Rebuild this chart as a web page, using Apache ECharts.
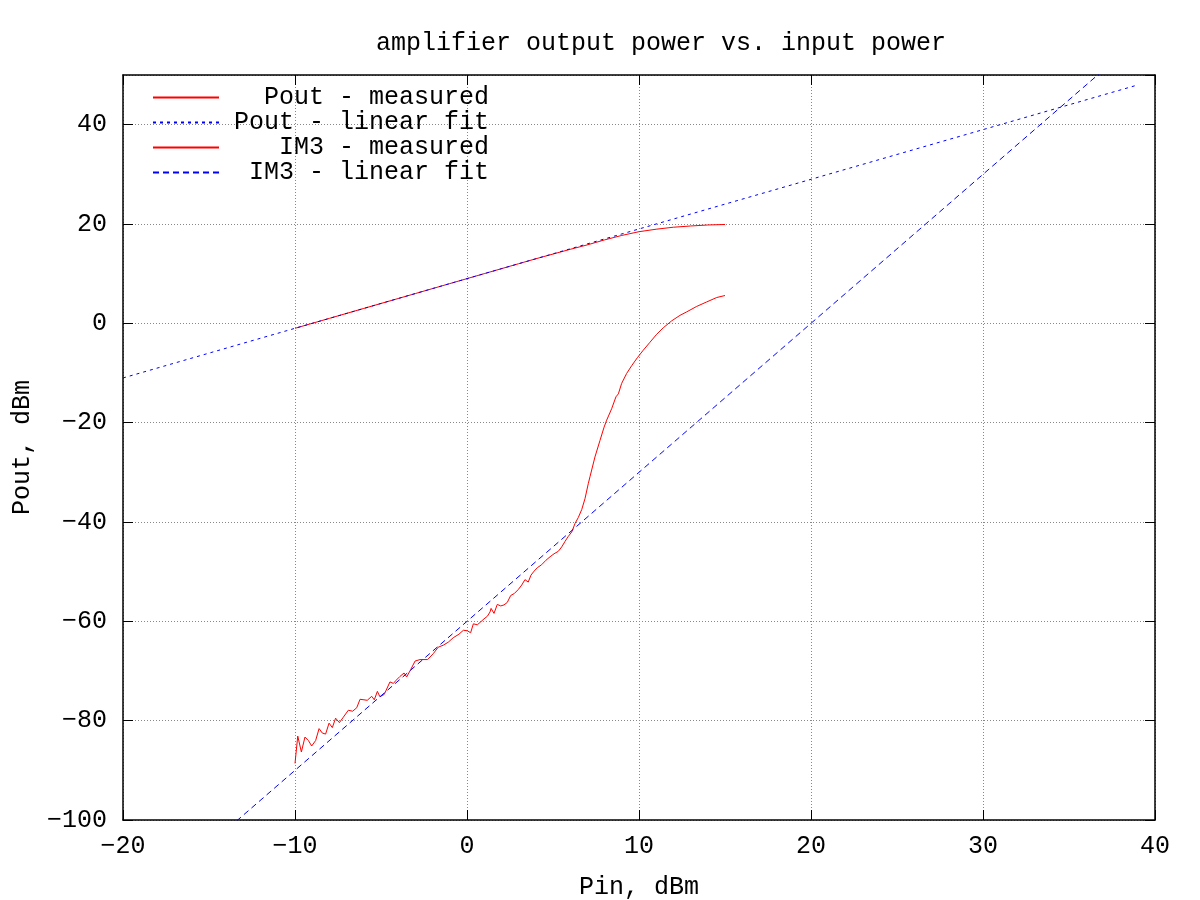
<!DOCTYPE html>
<html>
<head>
<meta charset="utf-8">
<script src="https://cdn.jsdelivr.net/npm/echarts@6/dist/echarts.min.js"></script>
<style>html,body{margin:0;padding:0;background:#fff;}#c{width:1200px;height:900px;}</style>
</head>
<body>
<div id="c"></div>
<script>
const FONT = 'Liberation Mono';
const xTicks = [-20, -10, 0, 10, 20, 30, 40];
const yTicks = [-100, -80, -60, -40, -20, 0, 20, 40];
const seriesNames = ['Pout - measured', 'Pout - linear fit', 'IM3 - measured', 'IM3 - linear fit'];

const poutPin = [-10, -9, -8, -7, -6, -5, -4, -3, -2, -1, 0, 1, 2, 3, 4, 5, 6, 7, 8, 9, 10, 11, 12, 13, 14, 15];
const poutDbm = [-1.0, 0.0, 1.0, 2.0, 3.0, 4.0, 5.0, 6.0, 7.0, 8.0, 9.0, 10.0, 11.0, 12.0, 13.0, 13.95, 14.9, 15.8, 16.8, 17.7, 18.45, 18.95, 19.35, 19.6, 19.8, 19.9];

const poutFitPin = [-20, 39];
const poutFitDbm = [-11, 48];

const im3Pin = [-10.0, -9.84, -9.63, -9.42, -9.22, -9.03, -8.80, -8.60, -8.41, -8.22, -8.02, -7.83, -7.64, -7.42, -7.19, -6.90, -6.65, -6.41, -6.22, -5.99, -5.80, -5.54, -5.39, -5.21, -5.06, -4.81, -4.48, -4.28, -4.13, -3.90, -3.66, -3.51, -3.27, -3.02, -2.73, -2.29, -1.96, -1.67, -1.38, -1.09, -0.80, -0.47, -0.21, 0.02, 0.21, 0.37, 0.60, 0.80, 0.99, 1.18, 1.34, 1.40, 1.57, 1.76, 1.96, 2.15, 2.34, 2.54, 2.75, 2.98, 3.18, 3.37, 3.56, 3.72, 3.90, 4.09, 4.34, 4.59, 4.83, 5.06, 5.31, 5.51, 5.70, 5.89, 6.09, 6.28, 6.47, 6.67, 6.86, 7.05, 7.15, 7.44, 7.73, 7.97, 8.12, 8.41, 8.66, 8.80, 8.99, 9.28, 9.58, 9.91, 10.25, 10.64, 11.03, 11.41, 11.90, 12.38, 12.77, 13.35, 13.93, 14.52, 15.0];
const im3Dbm = [-88.6, -83.1, -86.3, -83.3, -84.0, -85.1, -84.0, -81.6, -82.5, -82.7, -80.5, -81.4, -79.5, -80.4, -79.3, -77.9, -78.1, -77.4, -75.7, -75.8, -75.9, -75.1, -75.8, -74.1, -75.2, -74.7, -72.2, -72.5, -71.9, -71.1, -70.4, -71.2, -69.7, -68.0, -67.7, -67.7, -66.5, -65.2, -64.8, -64.2, -63.3, -62.6, -61.8, -61.9, -62.3, -60.5, -60.7, -60.1, -59.5, -59.0, -58.1, -57.4, -58.4, -56.6, -56.9, -56.7, -56.2, -54.8, -54.4, -53.6, -52.7, -51.6, -52.1, -50.7, -49.9, -49.2, -48.6, -47.7, -47.0, -46.4, -45.9, -45.0, -43.9, -42.9, -42.0, -40.3, -39.1, -37.5, -35.3, -32.3, -30.9, -26.9, -23.6, -20.9, -19.5, -17.2, -14.8, -14.2, -12.1, -10.1, -8.5, -6.9, -5.4, -3.8, -2.2, -0.9, 0.5, 1.6, 2.3, 3.4, 4.3, 5.2, 5.6];

const im3FitPin = [-20, 40];
const im3FitDbm = [-120, 60];

function pairs(xs, ys) { return xs.map((x, i) => [x, ys[i]]); }

const maxLen = Math.max(...seriesNames.map(s => s.length));
const chart = echarts.init(document.getElementById('c'), null, {renderer: 'canvas'});

const xStep = xTicks[1] - xTicks[0];
const yStep = yTicks[1] - yTicks[0];
const xMin = xTicks[0], xMax = xTicks[xTicks.length - 1];
const yMin = yTicks[0], yMax = 50;
const FS = 25;

const baseX = {
  type: 'value', min: xMin, max: xMax, interval: xStep,
  axisLine: {show: true, onZero: false, lineStyle: {color: '#000', width: 1.5}},
  axisTick: {show: true, inside: true, length: 10, lineStyle: {color: '#000', width: 1}},
};
const baseY = {
  type: 'value', min: yMin, max: yMax, interval: yStep,
  axisLine: {show: true, onZero: false, lineStyle: {color: '#000', width: 1.5}},
  axisTick: {show: true, inside: true, length: 10, lineStyle: {color: '#000', width: 1}},
};

chart.setOption({
  animation: false,
  backgroundColor: '#fff',
  textStyle: {fontFamily: FONT},
  title: {
    text: 'amplifier output power vs. input power',
    left: 371, top: 26,
    textStyle: {fontFamily: FONT, fontSize: FS, fontWeight: 'normal', color: '#000'}
  },
  grid: {left: 123, right: 45, top: 75, bottom: 80, containLabel: false, outerBoundsMode: 'none'},
  legend: {
    orient: 'vertical', left: 147, top: 80,
    itemWidth: 66, itemHeight: 10, itemGap: 0,
    data: seriesNames,
    itemStyle: {opacity: 0},
    formatter: name => ' '.repeat(maxLen - name.length) + name,
    textStyle: {fontFamily: FONT, fontSize: FS, color: '#000', lineHeight: 25, padding: [0, 0, 0, 10]},
    selectedMode: false
  },
  xAxis: [
    Object.assign({}, baseX, {
      position: 'bottom',
      name: 'Pin, dBm', nameLocation: 'middle', nameGap: 55,
      nameTextStyle: {fontFamily: FONT, fontSize: FS, color: '#000'},
      axisLabel: {show: true, margin: 14, fontFamily: FONT, fontSize: FS, color: '#000',
        formatter: v => String(v).replace('-', '\u2212')},
      splitLine: {show: true, lineStyle: {color: '#888', width: 1, type: [1, 2]}}
    }),
    Object.assign({}, baseX, {position: 'top', axisLabel: {show: false}, splitLine: {show: false}})
  ],
  yAxis: [
    Object.assign({}, baseY, {
      position: 'left',
      name: 'Pout, dBm', nameLocation: 'middle', nameGap: 88, nameRotate: 90,
      nameTextStyle: {fontFamily: FONT, fontSize: FS, color: '#000'},
      axisLabel: {show: true, margin: 16, fontFamily: FONT, fontSize: FS, color: '#000',
        showMaxLabel: false,
        formatter: v => String(v).replace('-', '\u2212')},
      splitLine: {show: true, lineStyle: {color: '#888', width: 1, type: [1, 2]}}
    }),
    Object.assign({}, baseY, {position: 'right', axisLabel: {show: false}, splitLine: {show: false}})
  ],
  series: [
    {name: seriesNames[0], type: 'line', data: pairs(poutPin, poutDbm), symbol: 'none', clip: true,
      lineStyle: {color: '#ff0000', width: 1}, itemStyle: {color: '#ff0000'}},
    {name: seriesNames[1], type: 'line', data: pairs(poutFitPin, poutFitDbm), symbol: 'none', clip: true,
      lineStyle: {color: '#0000ff', width: 1, type: [3, 4]}, itemStyle: {color: '#0000ff'}},
    {name: seriesNames[2], type: 'line', data: pairs(im3Pin, im3Dbm), symbol: 'none', clip: true,
      lineStyle: {color: '#ff0000', width: 1}, itemStyle: {color: '#ff0000'}},
    {name: seriesNames[3], type: 'line', data: pairs(im3FitPin, im3FitDbm), symbol: 'none', clip: true,
      lineStyle: {color: '#0000ff', width: 1, type: [6, 4]}, itemStyle: {color: '#0000ff'}}
  ]
});
</script>
</body>
</html>
